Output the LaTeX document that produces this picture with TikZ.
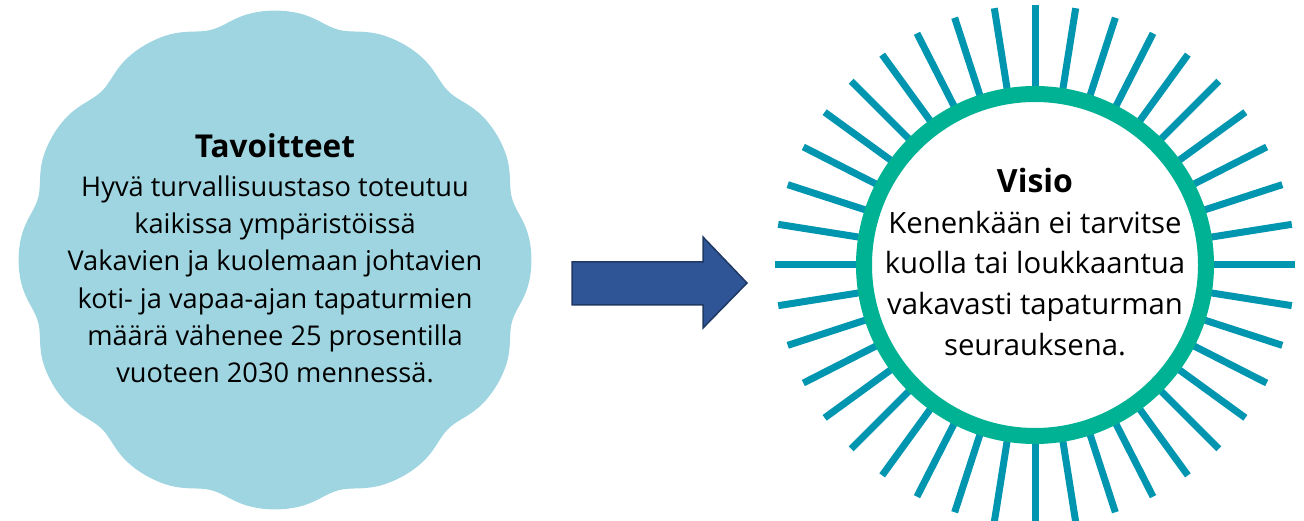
\documentclass[tikz,border=0pt]{standalone}
\usepackage{fontspec}
\setmainfont{Open Sans}
\usetikzlibrary{calc}
\definecolor{blobblue}{RGB}{158,213,224}
\definecolor{ringgreen}{RGB}{0,178,148}
\definecolor{raycol}{RGB}{0,150,176}
\definecolor{arrowfill}{RGB}{47,85,151}
\definecolor{arrowedge}{RGB}{31,56,100}
\tikzset{
  line/.style={anchor=base, inner sep=0pt, text=black},
  goaltitle/.style={line, font=\fontsize{31.5}{36}\bfseries\selectfont},
  goalline/.style={line, font=\fontsize{27.2}{36}\selectfont},
  visiontitle/.style={line, font=\fontsize{32}{36}\bfseries\selectfont},
  visionline/.style={line, font=\fontsize{29.3}{36}\selectfont},
  sunray/.style={draw=raycol, line width=7pt},
  sunring/.style={draw=ringgreen, line width=16pt, fill=white},
  blockarrow/.style={fill=arrowfill, draw=arrowedge, line width=1.5pt, line join=miter}
}
\begin{document}
\begin{tikzpicture}[x=1pt,y=-1pt]
\useasboundingbox (0,0) rectangle (1304,521);
% wavy blob
\coordinate (blobc) at (275,260);
\fill[blobblue] plot[domain=0:360,samples=721,smooth]
  ({275+(259.2-6.2*exp(-0.8*cos(12*\x)))*cos(\x)}, {260+(252.2-6.2*exp(-0.8*cos(12*\x)))*sin(\x)}) -- cycle;
\node[goaltitle] (goaltitle) at (275,158) {Tavoitteet};
\foreach \t [count=\i] in {Hyvä turvallisuustaso toteutuu,kaikissa ympäristöissä,Vakavien ja kuolemaan johtavien,koti- ja vapaa-ajan tapaturmien,määrä vähenee 25 prosentilla,vuoteen 2030 mennessä.}
  \node[goalline] (goal\i) at (275,{196.5+37.2*(\i-1)}) {\t};
% arrow
\fill[blockarrow] (572,262) -- (703,262) -- (703,237) -- (747,283) -- (703,328) -- (703,305) -- (572,305) -- cycle;
% sun
\coordinate (sun) at (1035,265);
\foreach \a in {0,9,...,351}
  \draw[sunray] ($(sun)+(\a:172)$) -- ($(sun)+(\a:260)$);
\draw[sunring] (sun) circle[radius=171];
\node[visiontitle] (visiontitle) at (1035,193) {Visio};
\foreach \t [count=\i] in {Kenenkään ei tarvitse,kuolla tai loukkaantua,vakavasti tapaturman,seurauksena.}
  \node[visionline] (vision\i) at (1035,{233.3+40.6*(\i-1)}) {\t};
\end{tikzpicture}
\end{document}
